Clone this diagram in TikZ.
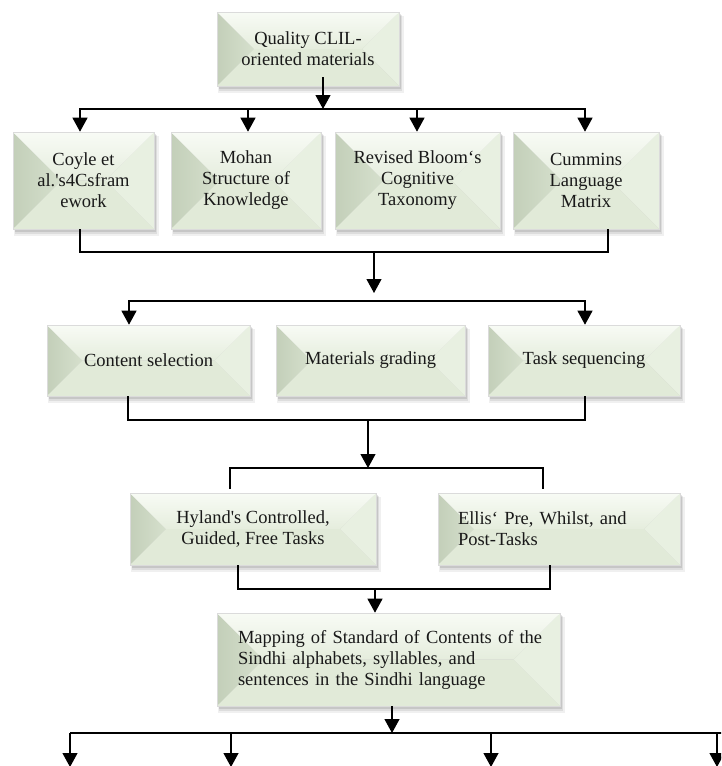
\documentclass[tikz,border=0pt]{standalone}
\usepackage{fontspec}
\setmainfont{Liberation Serif}
\usetikzlibrary{arrows.meta}
\definecolor{faceT}{HTML}{E5EDDD}
\definecolor{faceTop}{HTML}{F8FBF5}
\definecolor{faceB}{HTML}{E1EAD8}
\definecolor{facetLa}{HTML}{C3CFB9}
\definecolor{facetLb}{HTML}{D6E0CD}
\definecolor{facetR}{HTML}{E8F0E1}
\tikzset{
  ln/.style={line width=1.2pt, black},
  arr/.style={ln, -{Triangle[width=15pt,length=14pt]}},
  arrboth/.style={ln, {Triangle[width=15pt,length=14pt]}-{Triangle[width=15pt,length=14pt]}},
  boxtxt/.style={draw=black!14, line width=0.6pt, inner sep=0pt, align=center,
    font=\fontsize{18.5}{21}\selectfont, text=black!90},
}
\newcommand\bevbox[7]{%
  \pgfmathsetmacro\bh{(#5-#3)/2}%
  \pgfmathsetmacro\bxa{#2+\bh}%
  \pgfmathsetmacro\bxb{#4-\bh}%
  \pgfmathsetmacro\bym{(#3+#5)/2}%
  \fill[black,opacity=0.06] (#2+1,#3+4) rectangle (#4+5,#5+7);
  \fill[black,opacity=0.08] (#2+2,#3+3) rectangle (#4+3,#5+5);
  \fill[black,opacity=0.10] (#2+2,#3+2) rectangle (#4+2,#5+3);
  \shade[left color=facetLa, right color=facetLb] (#2,#3) -- (\bxa,\bym) -- (#2,#5) -- cycle;
  \fill[facetR] (#4,#3) -- (\bxb,\bym) -- (#4,#5) -- cycle;
  \shade[top color=faceTop, bottom color=faceT] (#2,#3) -- (\bxa,\bym) -- (\bxb,\bym) -- (#4,#3) -- cycle;
  \fill[faceB] (#2,#5) -- (\bxa,\bym) -- (\bxb,\bym) -- (#4,#5) -- cycle;
  \node[boxtxt, #6, minimum width=#4-#2, minimum height=#5-#3] (#1) at ({(#2+#4)/2},\bym) {#7};
}
\begin{document}
\begin{tikzpicture}[x=1pt,y=-1pt]
\useasboundingbox (0,0) rectangle (721,766);
\clip (0,0) rectangle (721,766);

% boxes
\bevbox{top}{217}{12}{399}{86}{}{Quality CLIL-\\oriented materials}
\bevbox{r2a}{13}{132}{154}{229}{}{Coyle et\\al.\textquotesingle s4Csfram\\ework}
\bevbox{r2b}{171}{132}{321}{229}{}{Mohan\\Structure of\\Knowledge}
\bevbox{r2c}{335}{132}{500}{229}{}{Revised Bloom‘s\\Cognitive\\Taxonomy}
\bevbox{r2d}{513}{132}{659}{229}{}{Cummins\\Language\\Matrix}
\bevbox{r3a}{47}{325}{250}{396}{}{Content selection}
\bevbox{r3b}{276}{325}{465}{396}{}{Materials grading}
\bevbox{r3c}{488}{325}{680}{396}{}{Task sequencing}
\bevbox{r4a}{130}{493}{376}{565}{}{Hyland\textquotesingle s Controlled,\\Guided, Free Tasks}
\bevbox{r4b}{438}{493}{680}{565}{text width=202pt, align=left}{Ellis‘ Pre, Whilst, and\\Post-Tasks}
\bevbox{map}{217}{613}{560}{706}{text width=301pt, align=left}{\mbox{Mapping of Standard of Contents of the}\\Sindhi alphabets, syllables, and\\sentences in the Sindhi language}

% bus coordinates
\coordinate (b1L) at (80,109);
\coordinate (b1b) at (248,109);
\coordinate (b1c) at (417,109);
\coordinate (b1m) at (323,109);
\coordinate (b1R) at (585,109);
\coordinate (b2L) at (80,252);
\coordinate (b2m) at (374,252);
\coordinate (b2R) at (608,252);
\coordinate (a2e) at (374,293);
\coordinate (b3L) at (129,301);
\coordinate (b3R) at (585,301);
\coordinate (b4L) at (128,420);
\coordinate (b4m) at (368,420);
\coordinate (b4R) at (585,420);
\coordinate (b5m) at (368,468);
\coordinate (b5L) at (230,468);
\coordinate (b5R) at (543,468);
\coordinate (e5L) at (230,489);
\coordinate (e5R) at (543,489);
\coordinate (b6L) at (238,589);
\coordinate (b6m) at (375,589);
\coordinate (b6R) at (550,589);
\coordinate (b7m) at (392,733);
\coordinate (b7L) at (70,733);
\coordinate (b7R) at (722,733);
\coordinate (b7b) at (231,733);
\coordinate (b7c) at (491,733);
\coordinate (b7d) at (717,733);
\coordinate (d7L) at (70,767);
\coordinate (d7b) at (231,767);
\coordinate (d7c) at (491,767);
\coordinate (d7d) at (717,767);

% level 1
\draw[arr] ([yshift=9pt]top.south -| b1m) -- (b1m);
\draw[arrboth] (r2a.north -| b1L) -- (b1L) -- (b1R) -- (r2d.north -| b1R);
\draw[arr] (b1b) -- (r2b.north -| b1b);
\draw[arr] (b1c) -- (r2c.north -| b1c);

% level 2
\draw[ln] (r2a.south -| b2L) -- (b2L) -- (b2R) -- (r2d.south -| b2R);
\draw[arr] (b2m) -- (a2e);

% level 3
\draw[arrboth] (r3a.north -| b3L) -- (b3L) -- (b3R) -- (r3c.north -| b3R);
\draw[ln] (r3a.south -| b4L) -- (b4L) -- (b4R) -- (r3c.south -| b4R);
\draw[arr] (b4m) -- (b5m);

% level 4
\draw[ln] (e5L) -- (b5L) -- (b5R) -- (e5R);
\draw[ln] (r4a.south -| b6L) -- (b6L) -- (b6R) -- (r4b.south -| b6R);
\draw[arr] (b6m) -- (map.north -| b6m);

% level 5
\draw[arr] (map.south -| b7m) -- (b7m);
\draw[ln] (b7L) -- (b7R);
\draw[arr] (b7L) -- (d7L);
\draw[arr] (b7b) -- (d7b);
\draw[arr] (b7c) -- (d7c);
\draw[arr] (b7d) -- (d7d);
\end{tikzpicture}
\end{document}
